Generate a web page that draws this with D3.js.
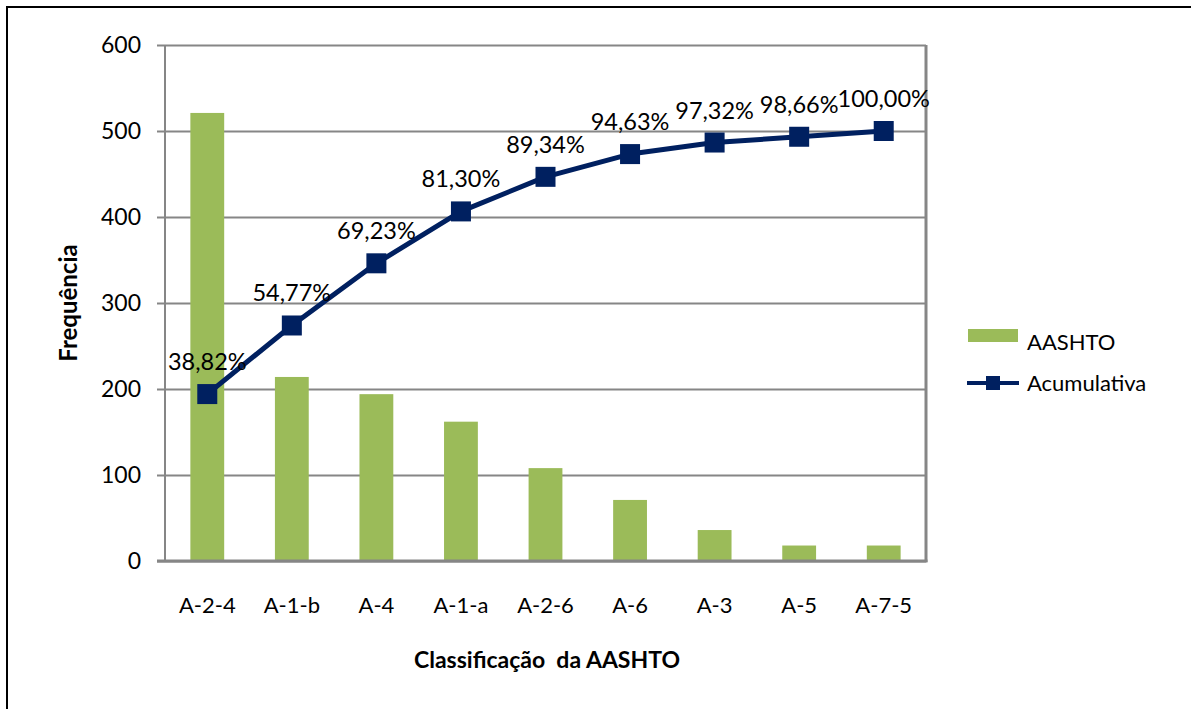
<!DOCTYPE html>
<html>
<head>
<meta charset="utf-8">
<script src="https://cdn.jsdelivr.net/npm/d3@7/dist/d3.min.js"></script>
<style>
  html, body { margin: 0; padding: 0; background: #fff; }
  svg { display: block; font-family: Lato, "Open Sans", sans-serif; }
</style>
</head>
<body>
<svg id="chart" width="1191" height="709"></svg>
<script>
// Soil classes (AASHTO) in Pareto order
const categories = ["A-2-4", "A-1-b", "A-4", "A-1-a", "A-2-6", "A-6", "A-3", "A-5", "A-7-5"];
// Number of samples per class
const frequency = [521, 214, 194, 162, 108, 71, 36, 18, 18];
// Cumulative share (percent) shown on the line
const cumulativePct = [38.82, 54.77, 69.23, 81.30, 89.34, 94.63, 97.32, 98.66, 100.00];
// Primary axis ticks
const yTicks = [0, 100, 200, 300, 400, 500, 600];

const svg = d3.select("#chart");
const W = 1191, H = 709;

// Frame around the figure
svg.append("line").attr("x1", 7).attr("x2", W).attr("y1", 7).attr("y2", 7)
  .attr("stroke", "#000").attr("stroke-width", 2);
svg.append("line").attr("x1", 7).attr("x2", 7).attr("y1", 6).attr("y2", H)
  .attr("stroke", "#000").attr("stroke-width", 2);

const plot = { left: 165, right: 926, top: 45, bottom: 561 };

const x = d3.scaleBand().domain(categories)
  .range([plot.left, plot.right]).paddingInner(0.6).paddingOuter(0.3);
const y = d3.scaleLinear().domain([0, 600]).range([plot.bottom, plot.top]);
// Hidden secondary axis for the cumulative percentage (0–120 %)
const y2 = d3.scaleLinear().domain([0, 120]).range([plot.bottom, plot.top]);

const grid = "#868686";

// Horizontal gridlines with tick stubs
const yAxis = d3.axisLeft(y).tickValues(yTicks)
  .tickSize(-(plot.right - plot.left)).tickSizeOuter(0).tickPadding(24);
const gy = svg.append("g").attr("transform", `translate(${plot.left},0)`).call(yAxis);
gy.select(".domain").remove();
gy.selectAll(".tick line").attr("stroke", grid).attr("stroke-width", 2)
  .attr("x1", -8);
gy.selectAll(".tick text").attr("font-size", 23).attr("fill", "#000")
  .attr("font-family", "Lato, sans-serif");

// Plot area borders
svg.append("line").attr("x1", plot.left).attr("x2", plot.left)
  .attr("y1", plot.top).attr("y2", plot.bottom).attr("stroke", grid).attr("stroke-width", 2);
svg.append("line").attr("x1", plot.right).attr("x2", plot.right)
  .attr("y1", plot.top).attr("y2", plot.bottom + 1).attr("stroke", grid).attr("stroke-width", 3);

// Bars
svg.append("g").selectAll("rect").data(categories).join("rect")
  .attr("x", d => x(d))
  .attr("width", x.bandwidth())
  .attr("y", (d, i) => y(frequency[i]))
  .attr("height", (d, i) => y(0) - y(frequency[i]))
  .attr("fill", "#9BBB59");

// Category axis
const xAxis = d3.axisBottom(x).tickSize(0).tickPadding(36);
const gx = svg.append("g").attr("transform", `translate(0,${plot.bottom})`).call(xAxis);
gx.select(".domain").remove();
gx.selectAll(".tick text").attr("font-size", 22).attr("fill", "#000")
  .attr("font-family", "Lato, sans-serif");
svg.append("line").attr("x1", plot.left - 8).attr("x2", plot.right + 1.5)
  .attr("y1", plot.bottom).attr("y2", plot.bottom).attr("stroke", grid).attr("stroke-width", 3);

// Cumulative line
const cx = d => x(d) + x.bandwidth() / 2;
const line = d3.line().x((d, i) => cx(categories[i])).y(d => y2(d));
svg.append("path").datum(cumulativePct)
  .attr("d", line).attr("fill", "none")
  .attr("stroke", "#002060").attr("stroke-width", 5).attr("stroke-linejoin", "round");

const ms = 20;
svg.append("g").selectAll("rect").data(cumulativePct).join("rect")
  .attr("x", (d, i) => cx(categories[i]) - ms / 2)
  .attr("y", d => y2(d) - ms / 2)
  .attr("width", ms).attr("height", ms)
  .attr("fill", "#002060");

// Data labels
const fmt = v => v.toFixed(2).replace(".", ",") + "%";
svg.append("g").selectAll("text").data(cumulativePct).join("text")
  .attr("x", (d, i) => cx(categories[i]))
  .attr("y", d => y2(d) - 24)
  .attr("text-anchor", "middle")
  .attr("font-size", 23.5)
  .attr("fill", "#000")
  .text(fmt);

// Axis titles
svg.append("text")
  .attr("transform", "translate(77,303) rotate(-90)")
  .attr("text-anchor", "middle")
  .attr("font-size", 24).attr("font-weight", "bold")
  .text("Frequência");
svg.append("text")
  .attr("x", 547).attr("y", 668)
  .attr("text-anchor", "middle")
  .attr("font-size", 23).attr("font-weight", "bold")
  .attr("xml:space", "preserve")
  .style("white-space", "pre")
  .text("Classificação  da AASHTO");

// Legend
const lg = svg.append("g");
lg.append("rect").attr("x", 968).attr("y", 329).attr("width", 50).attr("height", 13)
  .attr("fill", "#9BBB59");
lg.append("text").attr("x", 1027).attr("y", 343).attr("dy", "0.3em")
  .attr("font-size", 22).text("AASHTO");
lg.append("line").attr("x1", 967).attr("x2", 1019).attr("y1", 383).attr("y2", 383)
  .attr("stroke", "#002060").attr("stroke-width", 4);
lg.append("rect").attr("x", 986).attr("y", 376).attr("width", 14).attr("height", 14)
  .attr("fill", "#002060");
lg.append("text").attr("x", 1027).attr("y", 383).attr("dy", "0.35em")
  .attr("font-size", 22).text("Acumulativa");
</script>
</body>
</html>
